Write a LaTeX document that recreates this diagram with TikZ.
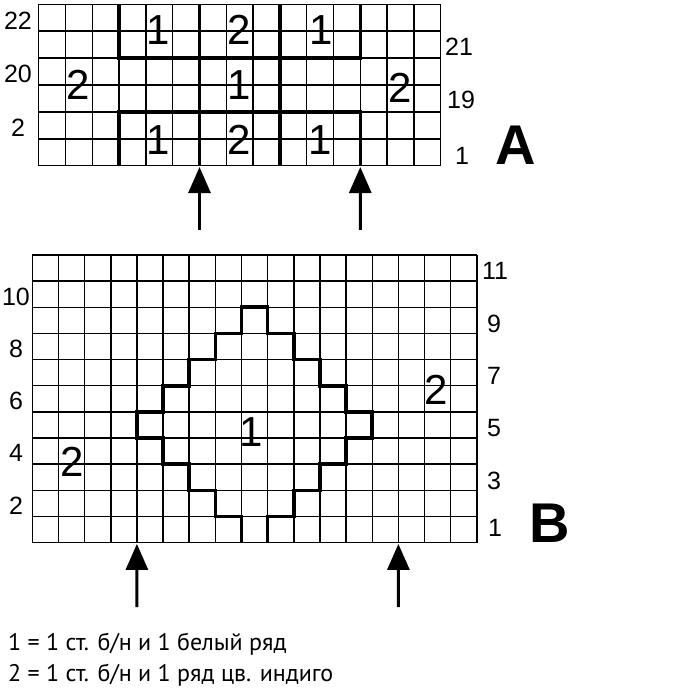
\documentclass[tikz,border=0pt]{standalone}
\usepackage{fontspec}
\setmainfont{Liberation Sans}
\newfontfamily\legendfont{PT Sans}
\usetikzlibrary{arrows.meta}
\begin{document}
\begin{tikzpicture}[x=1pt,y=-1pt,
  gridline/.style={line width=1.5pt, black},
  midline/.style={line width=2.2pt, black},
  heavy/.style={line width=3.6pt, black, line join=miter},
  uparrow/.style={line width=3pt, -{Triangle[width=22pt,length=26pt]}},
  rowlbl/.style={font=\fontsize{25}{25}\selectfont, inner sep=0pt},
  bignum/.style={font=\fontsize{42}{42}\selectfont, inner sep=0pt},
  letterlbl/.style={font=\fontsize{56}{56}\selectfont\bfseries, inner sep=0pt},
  legend/.style={font=\legendfont\fontsize{24}{24}\selectfont, inner sep=0pt, anchor=base west}]
\useasboundingbox (0,0) rectangle (700,700);

% ---------- Grid A ----------
\begin{scope}[shift={(38.7,4.3)}, x=26.8pt, y=-26.9pt]
  \foreach \i in {0,...,15} \draw[gridline] (\i,0) -- (\i,6);
  \foreach \j in {0,1,3,4,5,6} \draw[gridline] (0,\j) -- (15,\j);
  \draw[midline] (0,2) -- (15,2);
  \draw[heavy] (3,0) -- (3,2) -- (12,2) -- (12,0);
  \draw[heavy] (3,6) -- (3,4) -- (12,4) -- (12,6);
  \draw[heavy] (6,0) -- (6,6);
  \draw[heavy] (9,0) -- (9,6);
  \coordinate (atip1) at (6,6.05);
  \coordinate (atip2) at (12,6.05);
\end{scope}
\coordinate (abot1) at (199.5,230);
\coordinate (abot2) at (360.3,230);
\draw[uparrow] (abot1) -- (atip1);
\draw[uparrow] (abot2) -- (atip2);

\node[bignum] (a11) at (158,30) {1};
\node[bignum] (a12) at (239,30) {2};
\node[bignum] (a13) at (321,30) {1};
\node[bignum] (a21) at (78,85) {2};
\node[bignum] (a22) at (239,85) {1};
\node[bignum] (a23) at (400,88) {2};
\node[bignum] (a31) at (158,140) {1};
\node[bignum] (a32) at (239,140) {2};
\node[bignum] (a33) at (320,140) {1};

\node[rowlbl] (al22) at (18,21) {22};
\node[rowlbl] (al20) at (18,74) {20};
\node[rowlbl] (al2) at (18,128) {2};
\node[rowlbl] (ar21) at (459,47) {21};
\node[rowlbl] (ar19) at (461,100) {19};
\node[rowlbl] (ar1) at (462,156) {1};
\node[letterlbl] (lblA) at (516,145) {A};

% ---------- Grid B ----------
\begin{scope}[shift={(32.3,542.6)}, x=26.15pt, y=26.15pt]
  \foreach \i in {0,...,17} \draw[gridline] (\i,0) -- (\i,11);
  \foreach \j in {0,...,9,11} \draw[gridline] (0,\j) -- (17,\j);
  \draw[midline] (0,10) -- (17,10);
  \draw[heavy] (8,0) -- (8,1) -- (7,1) -- (7,2) -- (6,2) -- (6,3) -- (5,3) -- (5,4)
    -- (4,4) -- (4,5) -- (5,5) -- (5,6) -- (6,6) -- (6,7) -- (7,7) -- (7,8) -- (8,8)
    -- (8,9) -- (9,9) -- (9,8) -- (10,8) -- (10,7) -- (11,7) -- (11,6) -- (12,6)
    -- (12,5) -- (13,5) -- (13,4) -- (12,4) -- (12,3) -- (11,3) -- (11,2) -- (10,2)
    -- (10,1) -- (9,1) -- (9,0);
  \coordinate (btip1) at (4,-0.05);
  \coordinate (btip2) at (14,-0.05);
\end{scope}
\coordinate (bbot1) at (136.9,607);
\coordinate (bbot2) at (398.4,607);
\draw[uparrow] (bbot1) -- (btip1);
\draw[uparrow] (bbot2) -- (btip2);

\node[bignum] (b1) at (251,432) {1};
\node[bignum] (b2r) at (436,390) {2};
\node[bignum] (b2l) at (72,462) {2};

\node[rowlbl] (bl10) at (16,297) {10};
\node[rowlbl] (bl8) at (16,349) {8};
\node[rowlbl] (bl6) at (16,401) {6};
\node[rowlbl] (bl4) at (16,453) {4};
\node[rowlbl] (bl2) at (16,506) {2};
\node[rowlbl] (br11) at (495,271) {11};
\node[rowlbl] (br9) at (494,324) {9};
\node[rowlbl] (br7) at (494,376) {7};
\node[rowlbl] (br5) at (494,428) {5};
\node[rowlbl] (br3) at (494,481) {3};
\node[rowlbl] (br1) at (495,528) {1};
\node[letterlbl] (lblB) at (550,523) {B};

% ---------- Legend ----------
\node[legend] (leg1) at (8,650) {1 = 1 ст. б/н и 1 белый ряд};
\node[legend] (leg2) at (8,681) {2 = 1 ст. б/н и 1 ряд цв. индиго};
\end{tikzpicture}
\end{document}
